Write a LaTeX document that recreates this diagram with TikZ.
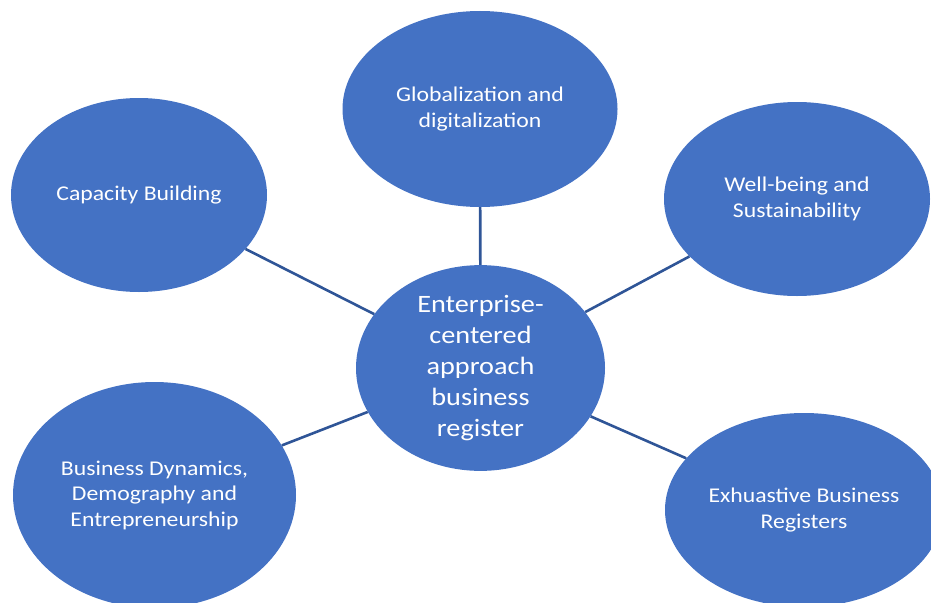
\documentclass[tikz,border=0pt]{standalone}
\usepackage{fontspec}
\setmainfont{Carlito}[FakeStretch=1.13]
\usetikzlibrary{shapes.geometric}
\definecolor{bubblefill}{HTML}{4472C4}
\definecolor{linkcol}{HTML}{2F5597}
\begin{document}
\begin{tikzpicture}[x=1pt,y=-1pt,
  bubble/.style={ellipse, fill=bubblefill, draw=none, inner sep=0pt,
    text=white, align=center, font=\fontsize{21}{25.5}\selectfont},
  hub/.style={bubble, font=\fontsize{25}{31}\selectfont},
  link/.style={draw=linkcol, line width=2.6pt}]
  \useasboundingbox (0,0) rectangle (931,602);
  \clip (0,0) rectangle (931,602);

  % central topic
  \node[hub, minimum width=249pt, minimum height=201pt] (hubnode) at (480.5,368)
    {Enterprise-\\centered\\approach\\business\\register};

  % surrounding themes
  \node[bubble, minimum width=275pt, minimum height=196pt] (glob) at (480,109)
    {Globalization and\\digitalization};
  \node[bubble, minimum width=256pt, minimum height=194pt] (cap) at (139,195)
    {Capacity Building};
  \node[bubble, minimum width=266pt, minimum height=194pt] (well) at (797,199)
    {Well-being and\\Sustainability};
  \node[bubble, minimum width=283pt, minimum height=226pt] (dyn) at (154.5,495)
    {Business Dynamics,\\Demography and\\Entrepreneurship};
  \node[bubble, minimum width=278pt, minimum height=194pt] (reg) at (804,510)
    {Exhuastive Business\\Registers};

  % spokes
  \draw[link] (hubnode) -- (glob);
  \draw[link] (hubnode) -- (cap);
  \draw[link] (hubnode) -- (well);
  \draw[link] (hubnode) -- (dyn);
  \draw[link] (hubnode) -- (reg);
\end{tikzpicture}
\end{document}
